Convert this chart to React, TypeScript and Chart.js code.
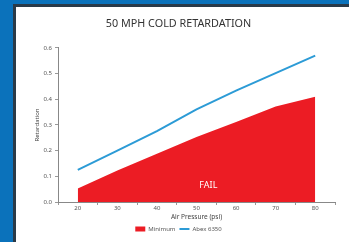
import React, { useEffect, useRef } from "react";
import { Chart, registerables } from "chart.js";

Chart.register(...registerables);

const categories = ["20", "30", "40", "50", "60", "70", "80"];
const minimumValues = [0.053, 0.123, 0.188, 0.253, 0.312, 0.372, 0.41];
const abexValues = [0.125, 0.2, 0.276, 0.361, 0.434, 0.502, 0.57];
const yTicks = [0, 0.1, 0.2, 0.3, 0.4, 0.5, 0.6];
const titleText = "50 MPH COLD RETARDATION";
const failText = "FAIL";

const failPlugin = {
  id: "failText",
  afterDatasetsDraw(chart: any) {
    const { ctx, scales } = chart;
    const x = scales.x.getPixelForValue(3.3);
    const y = scales.y.getPixelForValue(0.066);
    ctx.save();
    ctx.fillStyle = "#ffffff";
    ctx.font = "9px 'Noto Sans'";
    ctx.textAlign = "center";
    ctx.textBaseline = "middle";
    ctx.fillText(failText, x, y);
    ctx.restore();
  },
};

export default function App() {
  const ref = useRef<HTMLCanvasElement>(null);
  useEffect(() => {
    document.body.style.margin = "0";
    const chart = new Chart(ref.current!, {
      type: "line",
      data: {
        labels: categories,
        datasets: [
          {
            label: "Minimum",
            data: minimumValues,
            fill: "origin",
            backgroundColor: "#ec1c24",
            borderColor: "#ec1c24",
            borderWidth: 0,
            pointRadius: 0,
            tension: 0,
            pointStyle: "rect",
          },
          {
            label: "Abex 6350",
            data: abexValues,
            fill: false,
            borderColor: "#2c9bd6",
            backgroundColor: "#2c9bd6",
            borderWidth: 2,
            pointRadius: 0,
            tension: 0,
            pointStyle: "line",
          },
        ],
      },
      options: {
        animation: false,
        responsive: false,
        devicePixelRatio: 1,
        layout: { padding: { left: 6, right: 14, top: 0, bottom: 0 } },
        plugins: {
          title: {
            display: true,
            text: titleText,
            color: "#333333",
            font: { family: "'Noto Sans'", size: 10.8, weight: "normal" },
            padding: { top: 10, bottom: 18 },
          },
          legend: {
            display: true,
            position: "bottom",
            labels: {
              usePointStyle: true,
              pointStyleWidth: 10,
              boxHeight: 5,
              padding: 4,
              color: "#555555",
              font: { family: "'Noto Sans'", size: 6 },
            },
          },
          tooltip: { enabled: false },
        },
        scales: {
          x: {
            type: "category",
            offset: true,
            grid: {
              offset: true,
              drawOnChartArea: false,
              drawTicks: true,
              tickLength: 3,
              color: "#999999",
            },
            border: { color: "#888888", width: 1 },
            ticks: {
              color: "#555555",
              font: { family: "'Noto Sans'", size: 6 },
              padding: 0,
              maxRotation: 0,
            },
            title: {
              display: true,
              text: "Air Pressure (psi)",
              color: "#444444",
              font: { family: "'Noto Sans'", size: 6.5 },
              padding: { top: 1, bottom: 1 },
            },
          },
          y: {
            min: 0,
            max: 0.6,
            afterBuildTicks(axis: any) {
              axis.ticks = yTicks.map((v) => ({ value: v }));
            },
            afterFit(axis: any) {
              axis.width = 36;
            },
            grid: {
              drawOnChartArea: false,
              drawTicks: true,
              tickLength: 3,
              color: "#999999",
            },
            border: { color: "#888888", width: 1 },
            ticks: {
              color: "#555555",
              font: { family: "'Noto Sans'", size: 6 },
              padding: 3,
              callback: (v: any) => Number(v).toFixed(1),
            },
            title: {
              display: true,
              text: "Retardation",
              color: "#444444",
              font: { family: "'Noto Sans'", size: 6 },
              padding: { top: 12, bottom: 3 },
            },
          },
        },
      },
      plugins: [failPlugin],
    } as any);
    return () => chart.destroy();
  }, []);

  return (
    <div
      style={{
        position: "relative",
        width: 349,
        height: 242,
        background: "#0b72bb",
        overflow: "hidden",
      }}
    >
      <div
        style={{
          position: "absolute",
          left: 13,
          top: 4,
          width: 336,
          height: 238,
          background: "#2a3a48",
        }}
      />
      <div
        style={{
          position: "absolute",
          left: 16,
          top: 7,
          width: 333,
          height: 235,
          background: "#ffffff",
        }}
      >
        <canvas ref={ref} width={333} height={235} style={{ display: "block" }} />
      </div>
    </div>
  );
}
